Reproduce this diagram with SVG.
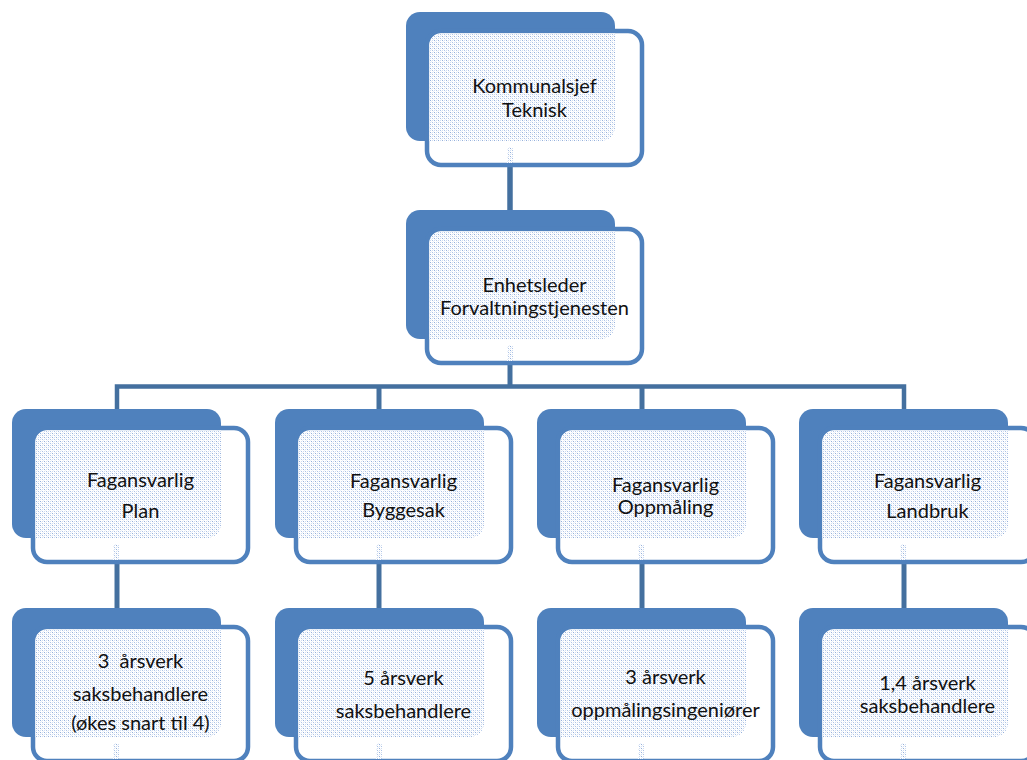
<svg xmlns="http://www.w3.org/2000/svg" xmlns:xlink="http://www.w3.org/1999/xlink" width="1027" height="760" viewBox="0 0 1027 760">
<style>
.back{fill:#4F81BD;}
.front{fill:#FFFFFF;stroke:#4F81BD;stroke-width:4.5;}
.dots{fill:url(#dotpat);}
.conn{fill:none;stroke:#44709F;stroke-linecap:butt;stroke-linejoin:miter;}
.lbl{font-family:Lato,"Liberation Sans",sans-serif;font-size:20px;fill:#111111;text-anchor:middle;white-space:pre;}
</style>
<defs>
<pattern id="dotpat" x="0" y="0" width="4" height="4" patternUnits="userSpaceOnUse">
<rect width="4" height="4" fill="#FFFFFF"/>
<rect x="0" y="0" width="1" height="1" fill="#95B0DB"/>
<rect x="2" y="2" width="1" height="1" fill="#ADC3E6"/>
<rect x="2" y="0" width="1" height="1" fill="#D0DDF1"/>
<rect x="0" y="2" width="1" height="1" fill="#D0DDF1"/>
<rect x="1" y="1" width="1" height="1" fill="#EAF0F9"/>
<rect x="3" y="3" width="1" height="1" fill="#EAF0F9"/>
</pattern>
<g id="box">
<rect class="back" x="0" y="0" width="209" height="129" rx="14"/>
<rect class="front" x="21" y="19" width="215" height="134" rx="14"/>
<path class="dots" d="M35.5,21.5 H209 V115 A14 14 0 0 1 195,129 H23.5 V33.5 A12 12 0 0 1 35.5,21.5 Z"/>
<rect class="dots" x="101" y="135" width="6" height="16"/>
</g>
</defs>
<rect width="1027" height="760" fill="#FFFFFF"/>
<g id="connectors">
<line class="conn" x1="510" y1="160" x2="510" y2="215" stroke-width="5.5"/>
<line class="conn" x1="510" y1="360" x2="510" y2="388" stroke-width="5"/>
<path class="conn" d="M117,412 V386.5 H904 V412" stroke-width="4.5"/>
<line class="conn" x1="379" y1="386" x2="379" y2="412" stroke-width="5"/>
<line class="conn" x1="642" y1="386" x2="642" y2="412" stroke-width="5"/>
<line class="conn" x1="117" y1="555" x2="117" y2="612" stroke-width="5"/>
<line class="conn" x1="379" y1="555" x2="379" y2="612" stroke-width="5"/>
<line class="conn" x1="642" y1="555" x2="642" y2="612" stroke-width="5"/>
<line class="conn" x1="904" y1="555" x2="904" y2="612" stroke-width="5"/>
</g>
<g id="n-kommunalsjef" transform="translate(406,12)">
<use xlink:href="#box"/>
<text class="lbl" x="128.5" y="81">Kommunalsjef</text>
<text class="lbl" x="128.5" y="105">Teknisk</text>
</g>
<g id="n-enhetsleder" transform="translate(406,210)">
<use xlink:href="#box"/>
<text class="lbl" x="128.5" y="82">Enhetsleder</text>
<text class="lbl" x="128.5" y="105">Forvaltningstjenesten</text>
</g>
<g id="n-plan" transform="translate(12,409)">
<use xlink:href="#box"/>
<text class="lbl" x="128.5" y="78">Fagansvarlig</text>
<text class="lbl" x="128.5" y="109">Plan</text>
</g>
<g id="n-byggesak" transform="translate(275,409)">
<use xlink:href="#box"/>
<text class="lbl" x="128.5" y="79">Fagansvarlig</text>
<text class="lbl" x="128.5" y="108">Byggesak</text>
</g>
<g id="n-oppmaling" transform="translate(537,409)">
<use xlink:href="#box"/>
<text class="lbl" x="128.5" y="83">Fagansvarlig</text>
<text class="lbl" x="128.5" y="105">Oppmåling</text>
</g>
<g id="n-landbruk" transform="translate(799,409)">
<use xlink:href="#box"/>
<text class="lbl" x="128.5" y="79">Fagansvarlig</text>
<text class="lbl" x="128.5" y="109">Landbruk</text>
</g>
<g id="n-plan-staff" transform="translate(12,608)">
<use xlink:href="#box"/>
<text class="lbl" x="128.5" y="60" xml:space="preserve">3  årsverk</text>
<text class="lbl" x="128.5" y="93">saksbehandlere</text>
<text class="lbl" x="128.5" y="122">(økes snart til 4)</text>
</g>
<g id="n-byggesak-staff" transform="translate(275,608)">
<use xlink:href="#box"/>
<text class="lbl" x="128.5" y="77">5 årsverk</text>
<text class="lbl" x="128.5" y="110">saksbehandlere</text>
</g>
<g id="n-oppmaling-staff" transform="translate(537,608)">
<use xlink:href="#box"/>
<text class="lbl" x="128.5" y="76">3 årsverk</text>
<text class="lbl" x="128.5" y="109">oppmålingsingeniører</text>
</g>
<g id="n-landbruk-staff" transform="translate(799,608)">
<use xlink:href="#box"/>
<text class="lbl" x="128.5" y="82">1,4 årsverk</text>
<text class="lbl" x="128.5" y="105">saksbehandlere</text>
</g>
</svg>
